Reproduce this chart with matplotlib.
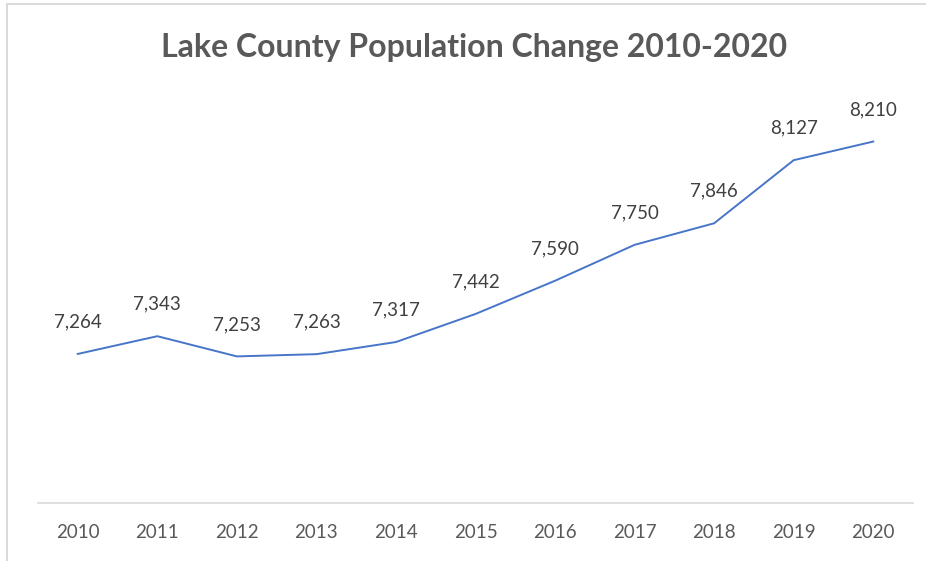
import matplotlib.pyplot as plt
from matplotlib.patches import Rectangle

years = ['2010', '2011', '2012', '2013', '2014', '2015', '2016', '2017', '2018', '2019', '2020']
population = [7264, 7343, 7253, 7263, 7317, 7442, 7590, 7750, 7846, 8127, 8210]

plt.rcParams['font.family'] = ['Lato', 'DejaVu Sans']

fig = plt.figure(figsize=(9.26, 5.61), dpi=100)
W, H = 926, 561
ax = fig.add_axes([38 / W, (H - 503) / H, (913 - 38) / W, (503 - 54) / H])

x = list(range(len(years)))
ax.plot(x, population, color='#4775C8', lw=1.4, solid_joinstyle='round')

for xi, v in zip(x, population):
    ax.annotate(f'{v:,}', (xi, v), xytext=(0, 23), textcoords='offset points',
                ha='center', va='center', fontsize=13.5, color='#404040')

ax.set_xlim(-0.5, len(years) - 0.5)
ax.set_ylim(6600, 8600)
ax.set_xticks(x)
ax.set_xticklabels(years, fontsize=13.5, color='#595959')
ax.tick_params(axis='x', length=0, pad=15)
ax.set_yticks([])
for side in ['top', 'right', 'left']:
    ax.spines[side].set_visible(False)
ax.spines['bottom'].set_color('#D9D9D9')
ax.spines['bottom'].set_linewidth(1.2)

fig.text(474 / W, 1 - 47 / H, 'Lake County Population Change 2010-2020',
         ha='center', va='center', fontsize=23, fontweight='bold', color='#595959')

# chart frame
fig.patches.append(Rectangle((7 / W, -0.05), 1.1, 1 - 4 / H + 0.05, transform=fig.transFigure,
                             fill=False, edgecolor='#D9D9D9', lw=1.4))

fig.savefig('out.png', dpi=100)
